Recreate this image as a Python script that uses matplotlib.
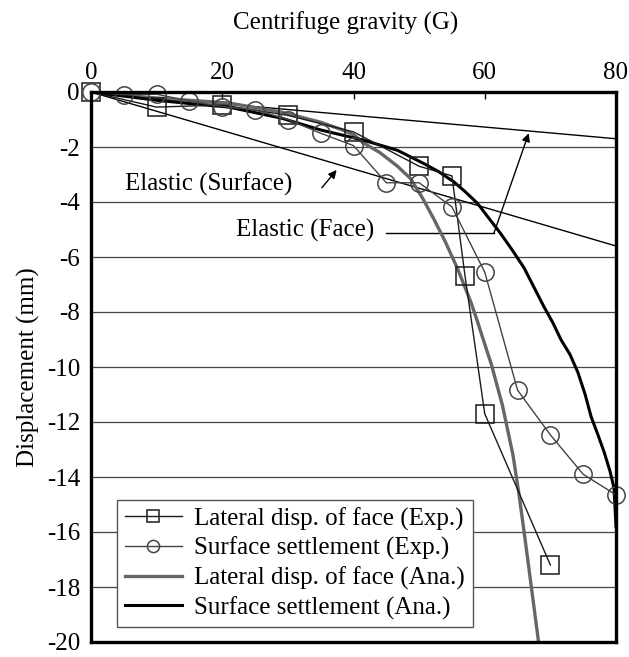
import matplotlib
matplotlib.use("Agg")
import matplotlib.pyplot as plt

plt.rcParams['font.family'] = ['Liberation Serif', 'DejaVu Serif']

# ---- data ----
face_exp_g = [0, 10, 20, 30, 40, 50, 55, 57, 60, 70]
face_exp_d = [0, -0.55, -0.47, -0.85, -1.45, -2.7, -3.05, -6.7, -11.7, -17.2]

surf_exp_g = [0, 5, 10, 15, 20, 25, 30, 35, 40, 45, 50, 55, 60, 65, 70, 75, 80]
surf_exp_d = [0, -0.1, -0.08, -0.33, -0.53, -0.65, -1.0, -1.5, -1.95, -3.3, -3.3,
              -4.18, -6.55, -10.84, -12.47, -13.9, -14.65]

face_ana_g = [0, 5, 10, 15, 21, 29, 35, 38, 40, 41.5, 44, 46.7, 48.7, 50.5, 52.2, 54,
              55.9, 57.9, 58.9, 59.7, 61, 62.7, 64.3, 65.2, 66, 67.1, 68.2]
face_ana_d = [0, -0.12, -0.22, -0.3, -0.4, -0.73, -1.1, -1.35, -1.55, -1.85, -2.2, -2.7,
              -3.15, -3.85, -4.6, -5.45, -6.45, -7.65, -8.35, -8.95, -9.9, -11.4, -13.2,
              -14.6, -16.0, -18.0, -20.0]

surf_ana_g = [0, 5, 10, 15, 21, 29, 35, 41.5, 46.7, 50.7, 53, 55.3, 57, 58.9, 60.5, 62.4,
              64.2, 66, 67.5, 69, 70.4, 71.6, 73, 74.2, 75.3, 76.2, 77.3, 78.2, 79.1, 79.7, 80]
surf_ana_d = [0, -0.15, -0.3, -0.42, -0.55, -0.95, -1.38, -1.75, -2.12, -2.6, -2.9, -3.27,
              -3.62, -4.05, -4.55, -5.14, -5.75, -6.4, -7.1, -7.8, -8.4, -9.0, -9.55, -10.2,
              -11.0, -11.8, -12.5, -13.1, -13.8, -14.4, -15.8]

elastic_g = [0, 80]
elastic_face_d = [0, -1.7]
elastic_surf_d = [0, -5.6]

x_ticks = [0, 20, 40, 60, 80]
y_ticks = [0, -2, -4, -6, -8, -10, -12, -14, -16, -18, -20]

W, H = 629, 657
fig = plt.figure(figsize=(W / 100, H / 100), dpi=100)
ax = fig.add_axes([91 / W, 1 - 642 / H, (616 - 91) / W, (642 - 92) / H])

ax.set_xlim(0, 80)
ax.set_ylim(-20, 0)

# grid
for yv in y_ticks[1:-1]:
    ax.axhline(yv, color='#444444', lw=0.9, zorder=1)

# elastic lines
ax.plot(elastic_g, elastic_face_d, color='black', lw=1.0, zorder=2)
ax.plot(elastic_g, elastic_surf_d, color='black', lw=1.0, zorder=2)

l1, = ax.plot(face_exp_g, face_exp_d, color='#1a1a1a', lw=1.0, marker='s', ms=12.5,
              mfc='none', mec='#1a1a1a', mew=1.1, clip_on=False, zorder=4,
              label='Lateral disp. of face (Exp.)')
l2, = ax.plot(surf_exp_g, surf_exp_d, color='#444444', lw=1.0, marker='o', ms=12.5,
              mfc='none', mec='#444444', mew=1.1, clip_on=False, zorder=4,
              label='Surface settlement (Exp.)')
l3, = ax.plot(face_ana_g, face_ana_d, color='#666666', lw=2.4, zorder=3,
              solid_joinstyle='round', label='Lateral disp. of face (Ana.)')
l4, = ax.plot(surf_ana_g, surf_ana_d, color='black', lw=2.2, zorder=3,
              solid_joinstyle='round', label='Surface settlement (Ana.)')

# annotations
fs = 18
ax.text(17.9, -3.35, 'Elastic (Surface)', fontsize=fs, ha='center', va='center')
ax.annotate('', xy=(37.7, -2.76), xytext=(34.9, -3.56),
            arrowprops=dict(arrowstyle='-|>', color='black', lw=1.0, mutation_scale=12))
ax.text(32.7, -5.05, 'Elastic (Face)', fontsize=fs, ha='center', va='center')
ax.plot([44.9, 61.4], [-5.13, -5.13], color='black', lw=1.0)
ax.annotate('', xy=(66.7, -1.5), xytext=(61.4, -5.13),
            arrowprops=dict(arrowstyle='-|>', color='black', lw=1.0, mutation_scale=12,
                            shrinkA=0, shrinkB=0))

# axes styling
ax.xaxis.tick_top()
ax.xaxis.set_label_position('top')
ax.set_xticks(x_ticks)
ax.set_xticklabels([str(v) for v in x_ticks])
ax.set_yticks(y_ticks)
ax.set_yticklabels([str(v) for v in y_ticks])
ax.tick_params(axis='x', direction='in', length=5, width=1, pad=6, labelsize=fs)
ax.tick_params(axis='y', length=0, pad=8, labelsize=fs)
ax.set_xlabel('Centrifuge gravity (G)', fontsize=fs, labelpad=23)
ax.xaxis.label.set_x((345.5 - 91) / 525)
ax.set_ylabel('Displacement (mm)', fontsize=fs, labelpad=5)
for s in ax.spines.values():
    s.set_linewidth(2.4)
    s.set_zorder(5)

leg = ax.legend(handles=[l1, l2, l3, l4], loc='lower left',
                bbox_to_anchor=((117 - 91) / 525, (642 - 627) / 550),
                fontsize=fs, frameon=True, fancybox=False, edgecolor='#555555',
                framealpha=1, borderpad=0.3, labelspacing=0.25, handlelength=2.3,
                handletextpad=0.5, markerscale=0.7, borderaxespad=0)
leg.get_frame().set_linewidth(1.0)
leg.set_zorder(6)

fig.savefig('out.png', dpi=100)
